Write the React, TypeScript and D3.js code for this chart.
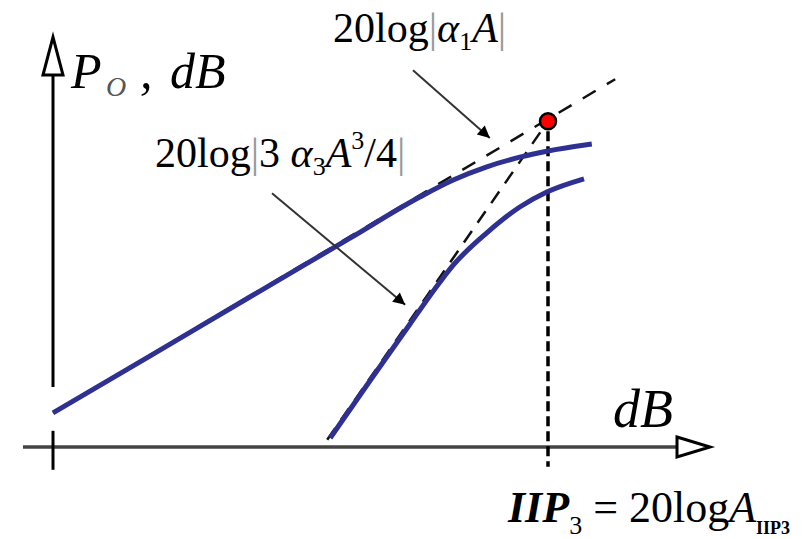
import React, { useEffect, useRef } from 'react';
import * as d3 from 'd3';

// output power vs input level (dB)
const fundIn = [0, 16.2, 32.8, 49.5, 61.2, 66.7, 72.3, 77.8, 82.3, 89.8];
const fundOut = [5.7, 15.2, 25.0, 34.8, 41.7, 44.5, 46.7, 48.3, 49.3, 50.5];
const im3In = [46.2, 52.8, 59.5, 64.5, 66.7, 72.3, 77.8, 82.3, 88.5];
const im3Out = [1.5, 11.0, 20.5, 27.5, 30.3, 35.7, 40.0, 42.5, 44.7];

// extrapolated small-signal lines (dashed)
const fundLineIn = [0, 93.7];
const fundLineOut = [5.7, 61.3];
const im3LineIn = [45.7, 82.5];
const im3LineOut = [1.2, 54.3];

// intercept point
const iip3 = 82.5;
const oip3 = 54.3;

// annotation arrows [fromIn, fromOut, toIn, toOut]
const arrowFund = [60, 62.8, 72.8, 51.5];
const arrowIm3 = [36.5, 42.3, 58.7, 23.7];

const SERIF = '"Liberation Serif", "DejaVu Serif", serif';

type Part = { t: string; i?: boolean; b?: boolean; off?: number; fs?: number; fill?: string; x?: number };

function richText(parent: any, x: number, y: number, fs: number, parts: Part[]) {
  const t = parent.append('text')
    .attr('x', x)
    .attr('y', y)
    .attr('font-size', fs)
    .attr('font-family', SERIF)
    .attr('fill', '#000');
  let prev = 0;
  parts.forEach(p => {
    const off = p.off || 0;
    const s = t.append('tspan')
      .attr('dy', off - prev)
      .attr('font-style', p.i ? 'italic' : 'normal')
      .attr('font-weight', p.b ? 'bold' : 'normal')
      .text(p.t);
    if (p.fs) s.attr('font-size', p.fs);
    if (p.fill) s.attr('fill', p.fill);
    if (p.x !== undefined) s.attr('x', p.x);
    prev = off;
  });
  return t;
}

export default function App() {
  const ref = useRef<SVGSVGElement>(null);

  useEffect(() => {
    const svg = d3.select(ref.current);
    svg.selectAll('*').remove();

    const x = d3.scaleLinear().domain([0, 110]).range([53, 713]);
    const y = d3.scaleLinear().domain([0, 70]).range([447, 27]);

    svg.append('defs').append('marker')
      .attr('id', 'head')
      .attr('viewBox', '0 0 10 10')
      .attr('refX', 10)
      .attr('refY', 5)
      .attr('markerWidth', 7)
      .attr('markerHeight', 6)
      .attr('markerUnits', 'strokeWidth')
      .attr('orient', 'auto')
      .append('path')
      .attr('d', 'M0,0 L10,5 L0,10 z')
      .attr('fill', '#000');

    // axes
    svg.append('line')
      .attr('x1', x(-5)).attr('x2', x(104))
      .attr('y1', y(0)).attr('y2', y(0))
      .attr('stroke', '#444').attr('stroke-width', 3.5);
    svg.append('path')
      .attr('d', `M${x(104)},${y(0) - 10} L${x(109.5)},${y(0)} L${x(104)},${y(0) + 10} Z`)
      .attr('fill', '#fff').attr('stroke', '#000').attr('stroke-width', 3);

    svg.append('line')
      .attr('x1', x(0)).attr('x2', x(0))
      .attr('y1', y(62)).attr('y2', y(10))
      .attr('stroke', '#000').attr('stroke-width', 3);
    svg.append('line')
      .attr('x1', x(0)).attr('x2', x(0))
      .attr('y1', y(2.7)).attr('y2', y(-3.8))
      .attr('stroke', '#000').attr('stroke-width', 3);
    svg.append('path')
      .attr('d', `M${x(0) - 10},${y(62)} L${x(0)},${y(68.3)} L${x(0) + 10},${y(62)} Z`)
      .attr('fill', '#fff').attr('stroke', '#000').attr('stroke-width', 3);

    const line = d3.line<[number, number]>()
      .x(d => x(d[0]))
      .y(d => y(d[1]));

    // dashed asymptotes
    svg.append('path')
      .datum(d3.zip(fundLineIn, fundLineOut) as [number, number][])
      .attr('d', line)
      .attr('fill', 'none').attr('stroke', '#111').attr('stroke-width', 2.5)
      .attr('stroke-dasharray', '15,13');
    svg.append('path')
      .datum(d3.zip(im3LineIn, im3LineOut) as [number, number][])
      .attr('d', line)
      .attr('fill', 'none').attr('stroke', '#111').attr('stroke-width', 2.5)
      .attr('stroke-dasharray', '14,10');

    // vertical marker at IIP3
    svg.append('line')
      .attr('x1', x(iip3)).attr('x2', x(iip3))
      .attr('y1', y(oip3) + 10).attr('y2', y(-3.3))
      .attr('stroke', '#000').attr('stroke-width', 3.5)
      .attr('stroke-dasharray', '10,5');

    // curves
    const curve = d3.line<[number, number]>()
      .x(d => x(d[0]))
      .y(d => y(d[1]))
      .curve(d3.curveMonotoneX);
    svg.append('path')
      .datum(d3.zip(fundIn, fundOut) as [number, number][])
      .attr('d', curve)
      .attr('fill', 'none').attr('stroke', '#2e3192').attr('stroke-width', 5);
    svg.append('path')
      .datum(d3.zip(im3In, im3Out) as [number, number][])
      .attr('d', curve)
      .attr('fill', 'none').attr('stroke', '#2e3192').attr('stroke-width', 5);

    svg.append('circle')
      .attr('cx', x(iip3)).attr('cy', y(oip3)).attr('r', 8)
      .attr('fill', '#ff0000').attr('stroke', '#000').attr('stroke-width', 2.5);

    // annotation arrows
    [arrowFund, arrowIm3].forEach(a => {
      svg.append('line')
        .attr('x1', x(a[0])).attr('y1', y(a[1]))
        .attr('x2', x(a[2])).attr('y2', y(a[3]))
        .attr('stroke', '#333').attr('stroke-width', 2)
        .attr('marker-end', 'url(#head)');
    });

    // labels
    richText(svg, 333, 42, 42, [
      { t: '20log' },
      { t: '|', fill: '#999' },
      { t: 'α', i: true },
      { t: '1', fs: 26, off: 8 },
      { t: 'A', i: true },
      { t: '|', fill: '#999' },
    ]);
    richText(svg, 155, 167, 42, [
      { t: '20log' },
      { t: '|', fill: '#999' },
      { t: '3 ' },
      { t: 'α', i: true },
      { t: '3', fs: 26, off: 8 },
      { t: 'A', i: true },
      { t: '3', fs: 26, off: -18 },
      { t: '/4' },
      { t: '|', fill: '#999' },
    ]);
    richText(svg, 71, 88, 50, [
      { t: 'P', i: true },
      { t: 'O', i: true, fs: 28, off: 8, fill: '#555', x: 106 },
      { t: ',', i: true, x: 140 },
      { t: 'dB', i: true, x: 170 },
    ]);
    richText(svg, 613, 427, 54, [{ t: 'dB', i: true }]);
    richText(svg, 508, 522, 44, [
      { t: 'IIP', i: true, b: true },
      { t: '3', fs: 26, off: 12 },
      { t: ' = 20log' },
      { t: 'A', i: true },
      { t: 'IIP3', fs: 18, b: true, off: 12 },
    ]);
  }, []);

  return (
    <svg
      ref={ref}
      width={802}
      height={539}
      style={{ position: 'absolute', left: 0, top: 0, background: '#fff' }}
    />
  );
}
